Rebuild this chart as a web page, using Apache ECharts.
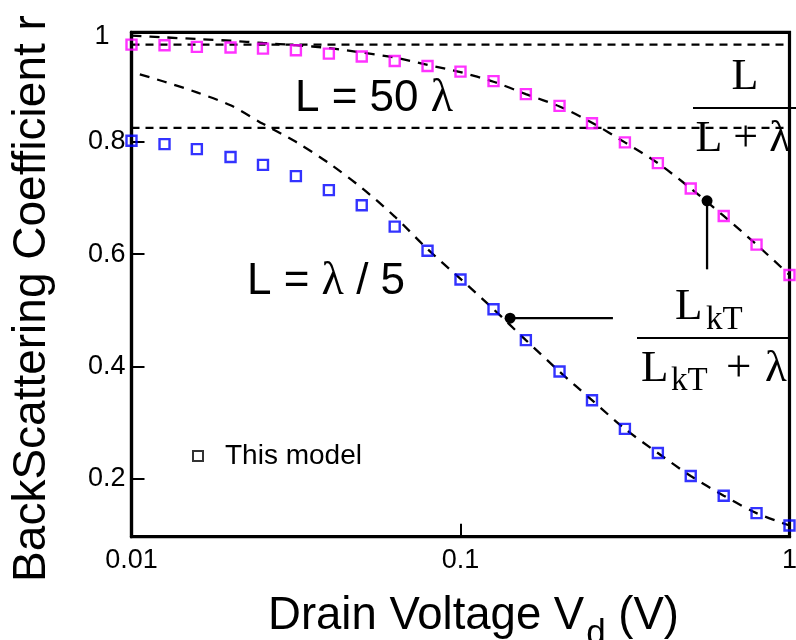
<!DOCTYPE html>
<html>
<head>
<meta charset="utf-8">
<script src="https://cdn.jsdelivr.net/npm/echarts@6/dist/echarts.min.js"></script>
<style>
html,body{margin:0;padding:0;background:#fff;}
#chart{width:796px;height:640px;}
</style>
</head>
<body>
<div id="chart"></div>
<script>
// Drain voltage samples (V), log-spaced
const xValues = [0.01, 0.0126, 0.0158, 0.02, 0.0251, 0.0316, 0.0398, 0.0501, 0.0631, 0.0794, 0.1, 0.126, 0.158, 0.2, 0.251, 0.316, 0.398, 0.501, 0.631, 0.794, 1];
// "This model" points, L = 50 lambda (magenta)
const modelLong = [0.973, 0.972, 0.969, 0.968, 0.966, 0.963, 0.957, 0.952, 0.944, 0.935, 0.925, 0.908, 0.885, 0.864, 0.833, 0.799, 0.762, 0.717, 0.668, 0.617, 0.563];
// "This model" points, L = lambda / 5 (blue)
const modelShort = [0.802, 0.796, 0.787, 0.773, 0.759, 0.739, 0.714, 0.687, 0.649, 0.606, 0.555, 0.502, 0.447, 0.391, 0.340, 0.289, 0.246, 0.205, 0.170, 0.139, 0.117];
// dashed analytic curve L_kT/(L_kT+lambda), L = 50 lambda
const curveLongY = [0.989, 0.986, 0.983, 0.980, 0.976, 0.972, 0.967, 0.959, 0.950, 0.937, 0.924, 0.907, 0.885, 0.863, 0.834, 0.799, 0.762, 0.717, 0.668, 0.617, 0.563];
// dashed analytic curve, L = lambda / 5
const curveShortX = [0.0106, 0.0126, 0.0158, 0.02, 0.0251, 0.0316, 0.0398, 0.0501, 0.0631, 0.0794, 0.1, 0.126, 0.158, 0.2, 0.251, 0.316, 0.398, 0.501, 0.631, 0.794, 1];
const curveShortY = [0.920, 0.907, 0.888, 0.865, 0.832, 0.800, 0.762, 0.718, 0.667, 0.609, 0.556, 0.502, 0.447, 0.391, 0.340, 0.289, 0.246, 0.205, 0.170, 0.139, 0.117];
// horizontal limits L/(L+lambda)
const limitLong = 0.973;
const limitShort = 0.825;
// marked points with leader lines
const markLong = [0.5616, 0.695];
const markLongEndY = 0.573;
const markShort = [0.1415, 0.486];
const markShortEndX = 0.2906;
// axis ticks
const xRange = [0.01, 1];
const yRange = [0.097, 0.995];
const yTickValues = [0.2, 0.4, 0.6, 0.8];
const yTopLabelValue = 0.987;

const SANS = '"Liberation Sans", Arial, sans-serif';
const SERIF = '"Liberation Serif", "Times New Roman", serif';

const zip = (xs, ys) => xs.map((x, i) => [x, ys[i]]);

const chart = echarts.init(document.getElementById('chart'));
const option = {
  animation: false,
  backgroundColor: '#fff',
  grid: {
    left: 131.5, right: 6.5, top: 32.3, bottom: 103.3,
    outerBoundsMode: 'none', containLabel: false,
    show: true, borderColor: '#000', borderWidth: 3.2, backgroundColor: 'transparent'
  },
  legend: {
    data: ['This model'],
    left: 192, top: 442, padding: 0,
    icon: 'rect', itemWidth: 10, itemHeight: 10,
    itemStyle: { color: 'rgba(0,0,0,0)', borderColor: '#000', borderWidth: 2 },
    textStyle: { fontFamily: SANS, fontSize: 28, color: '#000', padding: [0, 0, 0, 17] },
    selectedMode: false
  },
  xAxis: {
    type: 'log', logBase: 10, min: xRange[0], max: xRange[1],
    name: '{a|Drain Voltage V}{s|d}{a| (V)}',
    nameLocation: 'middle', nameGap: 44,
    nameTextStyle: {
      padding: [0, 0, 0, 26],
      rich: {
        a: { fontFamily: SANS, fontSize: 45.5, color: '#000' },
        s: { fontFamily: SANS, fontSize: 35, color: '#000', padding: [36, 0, 0, 2] }
      }
    },
    axisLine: { show: true, lineStyle: { color: '#000', width: 3.2 } },
    axisTick: { show: true, inside: true, length: 13, lineStyle: { color: '#000', width: 2 } },
    minorTick: { show: false },
    splitLine: { show: false },
    axisLabel: { fontFamily: SANS, fontSize: 27, color: '#000', margin: 10, showMinLabel: true, showMaxLabel: true }
  },
  yAxis: {
    type: 'value', min: yRange[0], max: yRange[1],
    name: 'BackScattering Coefficient r',
    nameLocation: 'middle', nameGap: 76, nameRotate: 90,
    nameTextStyle: { fontFamily: SANS, fontSize: 46, color: '#000', padding: [0, 28, 0, 0] },
    axisLine: { show: true, lineStyle: { color: '#000', width: 3.2 } },
    axisTick: { show: true, inside: true, length: 13, customValues: yTickValues, lineStyle: { color: '#000', width: 2 } },
    splitLine: { show: false },
    axisLabel: {
      fontFamily: SANS, fontSize: 27, color: '#000', margin: 6,
      customValues: yTickValues.concat([yTopLabelValue]),
      formatter: v => (v > 0.9 ? '{one|1}' : v.toFixed(1)),
      rich: { one: { fontFamily: SANS, fontSize: 27, color: '#000', padding: [0, 16, 0, 0] } }
    }
  },
  series: [
    {
      type: 'line', name: 'limitLong', data: [[xRange[0], limitLong], [xRange[1], limitLong]],
      symbol: 'none', silent: true, lineStyle: { color: '#000', width: 2.2, type: [8, 6] }, z: 2
    },
    {
      type: 'line', name: 'limitShort', data: [[xRange[0], limitShort], [xRange[1], limitShort]],
      symbol: 'none', silent: true, lineStyle: { color: '#000', width: 2.2, type: [8, 6] }, z: 2
    },
    {
      type: 'line', name: 'curveLong', data: zip(xValues, curveLongY), smooth: 0.3,
      symbol: 'none', silent: true, lineStyle: { color: '#000', width: 2.3, type: [10, 8] }, z: 2
    },
    {
      type: 'line', name: 'curveShort', data: zip(curveShortX, curveShortY), smooth: 0.3,
      symbol: 'none', silent: true, lineStyle: { color: '#000', width: 2.3, type: [10, 8] }, z: 2
    },
    {
      type: 'scatter', name: 'This model', data: zip(xValues, modelLong), clip: false,
      symbol: 'rect', symbolSize: 10,
      itemStyle: { color: 'rgba(255,255,255,0)', borderColor: '#ff00ff', borderWidth: 2.4 }, z: 3
    },
    {
      type: 'scatter', name: 'This model', data: zip(xValues, modelShort), clip: false,
      symbol: 'rect', symbolSize: 10,
      itemStyle: { color: 'rgba(255,255,255,0)', borderColor: '#0000ff', borderWidth: 2.4 }, z: 3
    },
    {
      type: 'line', name: 'markLong', silent: true, clip: false,
      data: [{ value: markLong, symbol: 'circle', symbolSize: 11 }, { value: [markLong[0], markLongEndY], symbol: 'none' }],
      lineStyle: { color: '#000', width: 2.3 }, itemStyle: { color: '#000' }, z: 4
    },
    {
      type: 'line', name: 'markShort', silent: true, clip: false,
      data: [{ value: markShort, symbol: 'circle', symbolSize: 11 }, { value: [markShortEndX, markShort[1]], symbol: 'none' }],
      lineStyle: { color: '#000', width: 2.3 }, itemStyle: { color: '#000' }, z: 4
    }
  ],
  graphic: [
    { type: 'text', left: 295, top: 76, style: {
      text: '{a|L = 50 }{b|λ}',
      rich: { a: { fontFamily: SANS, fontSize: 44, fill: '#000' }, b: { fontFamily: SERIF, fontSize: 46, fill: '#000' } }
    } },
    { type: 'text', left: 247, top: 259, style: {
      text: '{a|L = }{b|λ}{a| / 5}',
      rich: { a: { fontFamily: SANS, fontSize: 44, fill: '#000' }, b: { fontFamily: SERIF, fontSize: 46, fill: '#000' } }
    } },
    // L / (L + lambda)
    { type: 'text', x: 745, y: 77, style: { text: 'L', font: '44px ' + SERIF, fill: '#000', align: 'center', verticalAlign: 'middle' } },
    { type: 'line', shape: { x1: 693, y1: 108, x2: 796, y2: 108 }, style: { stroke: '#000', lineWidth: 2 } },
    { type: 'text', x: 743, y: 139, style: { text: 'L + λ', font: '44px ' + SERIF, fill: '#000', align: 'center', verticalAlign: 'middle' } },
    // L_kT / (L_kT + lambda)
    { type: 'text', x: 675, y: 307, style: { text: 'L', font: '45px ' + SERIF, fill: '#000', align: 'left', verticalAlign: 'middle' } },
    { type: 'text', x: 706, y: 320, style: { text: 'kT', font: '33px ' + SERIF, fill: '#000', align: 'left', verticalAlign: 'middle' } },
    { type: 'line', shape: { x1: 637, y1: 338, x2: 789, y2: 338 }, style: { stroke: '#000', lineWidth: 2 } },
    { type: 'text', x: 641, y: 369, style: { text: 'L', font: '45px ' + SERIF, fill: '#000', align: 'left', verticalAlign: 'middle' } },
    { type: 'text', x: 671, y: 381, style: { text: 'kT', font: '33px ' + SERIF, fill: '#000', align: 'left', verticalAlign: 'middle' } },
    { type: 'text', x: 726, y: 369, style: { text: '+', font: '45px ' + SERIF, fill: '#000', align: 'left', verticalAlign: 'middle' } },
    { type: 'text', x: 765, y: 369, style: { text: 'λ', font: '45px ' + SERIF, fill: '#000', align: 'left', verticalAlign: 'middle' } }
  ]
};
chart.setOption(option);
</script>
</body>
</html>
